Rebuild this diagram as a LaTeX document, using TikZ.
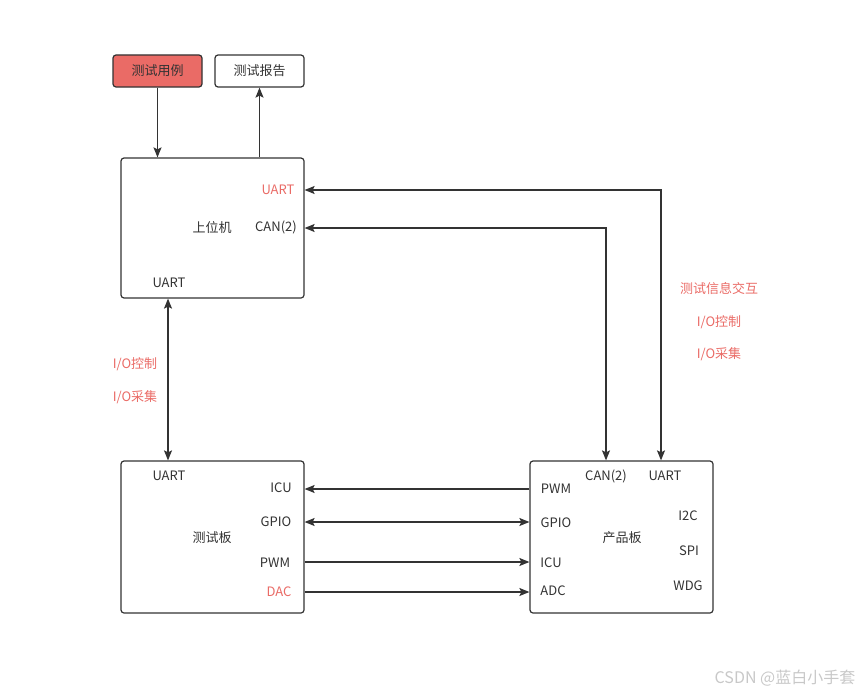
\documentclass[tikz,border=0pt]{standalone}
\usepackage{fontspec}
\setmainfont{Noto Sans CJK SC}
\usetikzlibrary{arrows.meta}
\definecolor{ink}{HTML}{333333}
\definecolor{hot}{HTML}{EA6B66}
\definecolor{mark}{HTML}{C8C8C8}
\tikzset{
  every node/.style={font=\fontsize{13}{15}\selectfont, text=ink},
  blk/.style={draw=ink, line width=1.2pt, rounded corners=3pt, fill=white, inner sep=0pt},
  tag/.style={inner sep=1pt},
  red tag/.style={tag, text=hot},
  wire/.style={draw=ink, line width=1.4pt},
  tip/.style={-{Stealth[length=10pt,width=8pt,inset=2pt]}},
  tips/.style={{Stealth[length=10pt,width=8pt,inset=2pt]}-{Stealth[length=10pt,width=8pt,inset=2pt]}},
}
\begin{document}
\begin{tikzpicture}[x=1pt,y=-1pt]
\useasboundingbox (0,0) rectangle (862,693);

% boxes
\node[blk, fill=hot, minimum width=89pt, minimum height=32pt] (case) at (157.5,71) {测试用例};
\node[blk, minimum width=89pt, minimum height=32pt] (report) at (259.5,71) {测试报告};
\node[blk, minimum width=183pt, minimum height=140pt] (host) at (212.5,228) {};
\node[blk, minimum width=183pt, minimum height=152pt] (tb) at (212.5,537) {};
\node[blk, minimum width=183pt, minimum height=152pt] (pb) at (621.5,537) {};

% host labels
\node[tag] (hostname) at (212,228) {上位机};
\node[red tag] (hostuart) at (278,190) {UART};
\node[tag] (hostcan) at (276,227) {CAN(2)};
\node[tag] (hostuart2) at (169,283) {UART};

% test board labels
\node[tag] (tbname) at (212,538) {测试板};
\node[tag] (tbuart) at (169,476) {UART};
\node[tag] (tbicu) at (281,488) {ICU};
\node[tag] (tbgpio) at (276,522) {GPIO};
\node[tag] (tbpwm) at (275,563) {PWM};
\node[red tag] (tbdac) at (279,592) {DAC};

% product board labels
\node[tag] (pbname) at (622,538) {产品板};
\node[tag] (pbcan) at (606,476) {CAN(2)};
\node[tag] (pbuart) at (665,476) {UART};
\node[tag] (pbpwm) at (556,489) {PWM};
\node[tag] (pbgpio) at (556,523) {GPIO};
\node[tag] (pbicu) at (551,563) {ICU};
\node[tag] (pbadc) at (553,591) {ADC};
\node[tag] (pbi2c) at (688,516) {I2C};
\node[tag] (pbspi) at (689,551) {SPI};
\node[tag] (pbwdg) at (688,586) {WDG};

% annotations
\node[red tag] (info) at (719,289) {测试信息交互};
\node[red tag] (ioctl) at (719,322) {I/O控制};
\node[red tag] (ioacq) at (719,354) {I/O采集};
\node[red tag] (ioctl2) at (135,364) {I/O控制};
\node[red tag] (ioacq2) at (135,397) {I/O采集};

\node[text=mark, font=\fontsize{16}{18}\selectfont] (wm) at (785,678) {CSDN @蓝白小手套};

% connectors
\draw[wire, tip] (case.south) -- (case.south |- host.north);
\draw[wire, tip] (host.north -| report.south) -- (report.south);
\draw[wire, tips] (host.south -| 168,0) -- (tb.north -| 168,0);
\draw[wire, tips] (host.east |- 0,190) -- (661,190) -- (pb.north -| 661,0);
\draw[wire, tips] (host.east |- 0,228) -- (606,228) -- (pb.north -| 606,0);
\draw[wire, tip] (pb.west |- 0,489) -- (tb.east |- 0,489);
\draw[wire, tips] (tb.east |- 0,522) -- (pb.west |- 0,522);
\draw[wire, tip] (tb.east |- 0,562) -- (pb.west |- 0,562);
\draw[wire, tip] (tb.east |- 0,592) -- (pb.west |- 0,592);
\end{tikzpicture}
\end{document}
